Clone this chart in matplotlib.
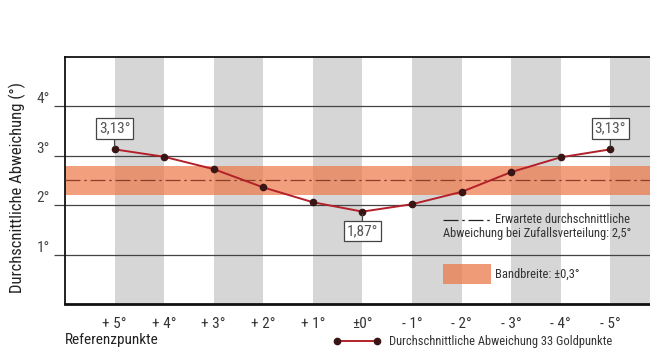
import numpy as np
import matplotlib
matplotlib.use("Agg")
import matplotlib.pyplot as plt
from matplotlib import font_manager as fm
from matplotlib.patches import Rectangle
from matplotlib.lines import Line2D

# try to find a condensed sans font, the reference uses a narrow face
font_name = 'DejaVu Sans'
font_stretch = 'normal'
known = {f.name for f in fm.fontManager.ttflist}
for cand in ['Roboto Condensed', 'Liberation Sans Narrow', 'Open Sans Condensed', 'Noto Sans Condensed']:
    if cand in known:
        font_name = cand
        break
else:
    for f in fm.fontManager.ttflist:
        low = f.fname.lower()
        if ('condensed' in low or 'narrow' in low) and 'bold' not in low \
                and 'italic' not in low and 'oblique' not in low and 'light' not in low:
            font_name = f.name
            font_stretch = f.stretch
            break

plt.rcParams['font.family'] = [font_name, 'DejaVu Sans']
plt.rcParams['font.stretch'] = font_stretch

# data
ref_labels = ['+ 5°', '+ 4°', '+ 3°', '+ 2°', '+ 1°', '±0°', '- 1°', '- 2°', '- 3°', '- 4°', '- 5°']
mean_dev = [3.13, 2.98, 2.73, 2.36, 2.06, 1.87, 2.02, 2.27, 2.67, 2.97, 3.13]
expected = 2.5
band = 0.3
y_ticks = [1, 2, 3, 4]
y_tick_labels = ['1°', '2°', '3°', '4°']
annotated = [0, 5, 10]  # indices with value boxes

x = np.arange(len(ref_labels))

fig = plt.figure(figsize=(6.5, 3.56), dpi=100)
ax = fig.add_axes([0.1, 0.146, 0.9, 0.694])
ax.set_xlim(-1, 10.8)
ax.set_ylim(0, 5)

# gray column stripes (between every other pair of reference points)
for i in range(0, len(x), 2):
    ax.axvspan(x[i], x[i] + 1, color='#d6d6d6', lw=0, zorder=0)

# horizontal grid lines
for yv in y_ticks:
    ax.axhline(yv, color='#444444', lw=0.9, zorder=1)

# tolerance band and expected value
ax.axhspan(expected - band, expected + band, color='#ec7a4a', alpha=0.72, lw=0, zorder=2)
ax.axhline(expected, color='#8b3e2a', lw=0.9, dashes=(12, 3, 2, 3), zorder=3)

# main line
ax.plot(x, mean_dev, color='#b3202a', lw=1.4, zorder=4)
ax.plot(x, mean_dev, 'o', color='#3a1515', ms=4.5, zorder=5)

# value boxes
for i in annotated:
    v = mean_dev[i]
    off = 15 if v > 2.5 else -14
    ax.annotate(f"{v:.2f}°".replace('.', ','), xy=(x[i], v), xytext=(0, off),
                textcoords='offset points', ha='center', va='center',
                fontsize=11, color='#555555',
                bbox=dict(boxstyle='square,pad=0.2', fc='white', ec='#444444', lw=0.9),
                arrowprops=dict(arrowstyle='-', color='#444444', lw=0.9,
                                shrinkA=0, shrinkB=2),
                zorder=6)

# spines and ticks
for side in ['top', 'left', 'bottom']:
    ax.spines[side].set_color('#111111')
ax.spines['top'].set_linewidth(1.3)
ax.spines['left'].set_linewidth(1.3)
ax.spines['bottom'].set_linewidth(2.0)
ax.spines['right'].set_visible(False)

ax.set_yticks(y_ticks)
ax.set_yticklabels(y_tick_labels, fontsize=11, color='#444444', va='bottom')
ax.tick_params(axis='y', length=8, width=0.9, color='#444444', pad=3)
ax.set_xticks(x)
ax.set_xticklabels(ref_labels, fontsize=11, color='#333333')
ax.tick_params(axis='x', length=0, pad=9)
ax.set_ylabel('Durchscnittliche Abweichung (°)', fontsize=12, color='#222222')
ax.yaxis.set_label_coords(-0.066, 0.47)

# legend inside plot
ax.add_line(Line2D([6.62, 7.57], [1.71, 1.71], color='#222222', lw=0.9,
                   dashes=(12, 3, 2, 3)))
ax.text(7.68, 1.71, 'Erwartete durchschnittliche', fontsize=9, color='#333333', va='center')
ax.text(6.62, 1.43, 'Abweichung bei Zufallsverteilung: 2,5°', fontsize=9,
        color='#333333', va='center')
ax.add_patch(Rectangle((6.62, 0.4), 0.98, 0.41, color='#ec7a4a', alpha=0.75, lw=0))
ax.text(7.68, 0.6, 'Bandbreite: ±0,3°', fontsize=9, color='#333333', va='center')

# bottom texts
fig.text(0.1, 0.045, 'Referenzpunkte', fontsize=11, color='#222222', va='center')
fig.add_artist(Line2D([0.518, 0.58], [0.042, 0.042], color='#b3202a', lw=1.4,
                      marker='o', ms=4.5, mfc='#3a1515', mec='#3a1515',
                      markevery=[0, 1]))
fig.text(0.598, 0.042, 'Durchschnittliche Abweichung 33 Goldpunkte', fontsize=9,
         color='#333333', va='center')

fig.savefig('out.png', dpi=100)
